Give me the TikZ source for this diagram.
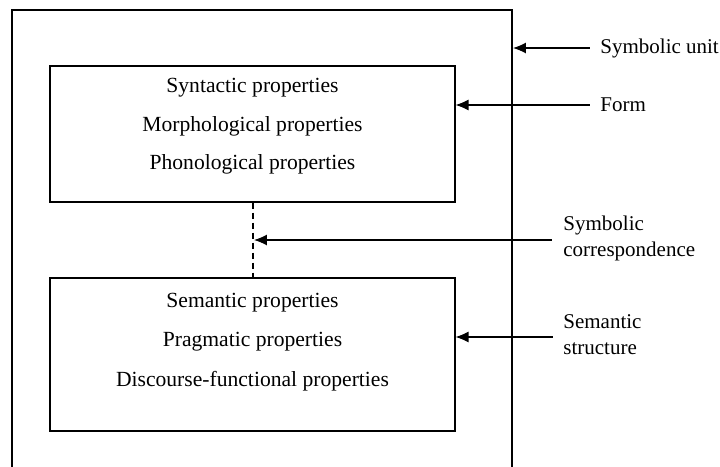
\documentclass[tikz,border=0pt]{standalone}
\usepackage{fontspec}
\setmainfont{Liberation Serif}
\usepackage{tikz}
\usetikzlibrary{positioning,arrows.meta}

\begin{document}
\begin{tikzpicture}[x=0.5pt, y=-0.5pt, font=\fontsize{10.8}{13}\selectfont,
    block/.style={rectangle, draw, line width=0.55pt, minimum width=202.5pt, inner sep=0pt},
    prop/.style={inner sep=0pt},
    tag/.style={inner sep=0pt, align=left, anchor=west, font=\fontsize{10.5}{13}\selectfont},
    line/.style={draw, line width=0.55pt, -{Latex[length=6.5pt,width=5.5pt]}}]
        \useasboundingbox (0,0) rectangle (720,467);

        % Outer unit
        \draw[line width=0.55pt] (12,467) -- (12,10) -- (512,10) -- (512,467);

        % Boxes
        \node [block, minimum height=68pt] (form) at (252.5,134) {};
        \node [block, minimum height=76.5pt] (meaning) at (252.5,354.5) {};

        % Properties
        \node [prop] (syntax) at (252.5,88) {Syntactic properties};
        \node [prop] (morph) at (252.5,126) {Morphological properties};
        \node [prop] (phon) at (252.5,164) {Phonological properties};
        \node [prop] (sem) at (252.5,303) {Semantic properties};
        \node [prop] (prag) at (252.5,342) {Pragmatic properties};
        \node [prop] (disc) at (252.5,381) {Discourse-functional properties};

        % Link
        \draw [line width=0.55pt, dash pattern=on 3pt off 2pt] (form.south -| 253,0) -- (meaning.north -| 253,0);

        % Labels
        \node [tag] (unit) at (600,48) {Symbolic unit};
        \node [tag] (formtag) at (600,105) {Form};
        \node [tag] (corr) at (563,238) {Symbolic\\correspondence};
        \node [tag] (semtag) at (563,335) {Semantic\\structure};
        \coordinate (unitedge) at (513,48);
        \coordinate (linkpt) at (254,240);

        % Arrows
        \path [line] (590,48) -- (unitedge);
        \path [line] (590,105) -- (form.east |- formtag);
        \path [line] (552,240) -- (linkpt);
        \path [line] (553,337) -- (meaning.east |- 0,337);
    \end{tikzpicture}
\end{document}
